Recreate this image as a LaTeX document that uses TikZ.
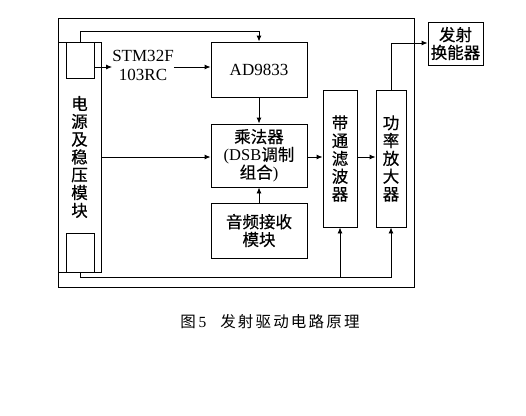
\documentclass[tikz,border=0pt]{standalone}
\usepackage{fontspec}
\setmainfont{Liberation Serif}
\newfontfamily\cjk{Noto Sans CJK SC}[FakeBold=0.5]
\newfontfamily\capcjk{Noto Sans CJK SC}[LetterSpace=14]
\usetikzlibrary{arrows.meta}
\begin{document}
\begin{tikzpicture}[x=1pt,y=-1pt,
  box/.style={draw,line width=0.9pt,inner sep=0pt,align=center,
    font=\cjk\fontsize{16.5}{17.8}\selectfont},
  lab/.style={inner sep=0pt,align=center,font=\fontsize{17}{20}\selectfont},
  wire/.style={line width=0.9pt},
  arr/.style={line width=0.9pt,-{Latex[length=6pt,width=5pt]}}]
\useasboundingbox (0,0) rectangle (526,415);
% outer frame
\draw[wire] (58,18) rectangle (414,287);
% power module
\node[box,minimum width=43pt,minimum height=230pt] (pw) at (79.5,157)
  {电\\源\\及\\稳\\压\\模\\块};
\node[box,minimum width=28pt,minimum height=36pt] (top) at (80,60) {};
\node[box,minimum width=28pt,minimum height=39pt] (bot) at (80,252.5) {};
% blocks
\node[box,minimum width=96pt,minimum height=55pt,font=\fontsize{17}{18}\selectfont] (ad) at (259,69.5) {AD9833};
\node[box,minimum width=96pt,minimum height=63pt] (mul) at (259,155.5)
  {乘法器\\{\rmfamily (DSB}调制\\组合{\rmfamily )}};
\node[box,minimum width=96pt,minimum height=55pt] (aud) at (259,230.5)
  {音频接收\\模块};
\node[box,minimum width=34pt,minimum height=137pt] (bp) at (340,158.5)
  {带\\通\\滤\\波\\器};
\node[box,minimum width=30pt,minimum height=137pt] (amp) at (391,158.5)
  {功\\率\\放\\大\\器};
\node[box,minimum width=55pt,minimum height=43pt] (tr) at (455.5,43.5)
  {发射\\换能器};
\node[lab] (stm) at (143,65) {STM32F\\[-1pt]103RC};
% connectors
\coordinate (topbus) at (0,31);
\coordinate (botbus) at (0,277);
\coordinate (ampup) at (0,43);
\draw[arr] (top.north) |- (ad.north |- topbus) -- (ad.north);
\draw[arr] (top.east |- 0,67) -- (stm.west |- 0,67);
\draw[arr] (stm.east |- 0,67) -- (ad.west |- 0,67);
\draw[arr] (ad.south) -- (mul.north);
\draw[arr] (aud.north) -- (mul.south);
\draw[arr] (pw.east) -- (pw.east -| mul.west);
\draw[arr] (mul.east |- pw.east) -- (bp.west |- pw.east);
\draw[arr] (bp.east |- pw.east) -- (amp.west |- pw.east);
\draw[arr] (bot.south) |- (amp.south |- botbus) -- (amp.south);
\draw[arr] (bp.south |- botbus) -- (bp.south);
\draw[arr] (amp.north) |- (tr.west |- ampup);
% caption
\node[inner sep=0pt,font=\fontsize{15.5}{18}\selectfont] (cap) at (270,322)
  {{\capcjk 图}\,5\hspace{14pt}{\capcjk 发射驱动电路原理}};
\end{tikzpicture}
\end{document}
